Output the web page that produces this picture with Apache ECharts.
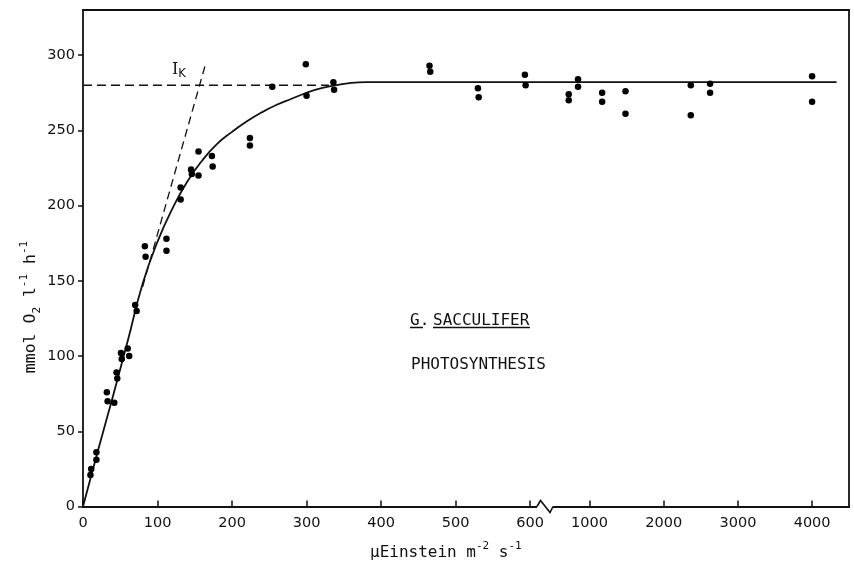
<!DOCTYPE html>
<html>
<head>
<meta charset="utf-8">
<script src="https://cdn.jsdelivr.net/npm/echarts@6/dist/echarts.min.js"></script>
<style>
  html, body { margin: 0; padding: 0; background: #fff; }
  #chart { width: 854px; height: 570px; }
</style>
</head>
<body>
<div id="chart"></div>
<script>
// Photosynthetic O2 production of G. sacculifer versus irradiance.
// Irradiance in µEinstein m-2 s-1, rate in mmol O2 l-1 h-1.

// measurements below the axis break (0–600)
const lowIrradiance = [10, 11, 18, 18, 32, 33, 42, 45, 46, 51, 52, 60, 62, 70, 72, 83, 84, 112, 112, 131, 131, 145, 146, 155, 155, 173, 174, 224, 224, 254, 299, 300, 336, 337, 465, 466, 530, 531, 593, 594];
const lowRate = [21, 25, 36, 31, 76, 70, 69, 89, 85, 102, 98, 105, 100, 134, 130, 173, 166, 178, 170, 212, 204, 224, 221, 236, 220, 233, 226, 245, 240, 279, 294, 273, 282, 277, 293, 289, 278, 272, 287, 280];

// measurements above the axis break
const highIrradiance = [720, 720, 845, 845, 1170, 1170, 1485, 1485, 2365, 2365, 2625, 2625, 4000, 4000];
const highRate = [274, 270, 284, 279, 275, 269, 276, 261, 280, 260, 281, 275, 286, 269];

// fitted P–I curve, read every 20 µE up to saturation
const curveIrradiance = [0, 20, 40, 60, 80, 100, 120, 140, 160, 180, 200, 220, 240, 260, 280, 300, 320, 340, 360, 380, 400, 620];
const curveRate = [0, 37, 73, 110, 148, 176, 198, 216, 230, 241, 249, 256, 262, 267, 271, 275, 278, 280, 281.5, 282, 282, 282];
const curveHighIrradiance = [400, 4330];
const curveHighRate = [282, 282];

// Ik construction: Pmax level and initial slope
const pmaxIrradiance = [0, 330];
const pmaxRate = [280, 280];
const slopeIrradiance = [80, 165];
const slopeRate = [146, 295];

// tick values
const lowTicks = [0, 100, 200, 300, 400, 500, 600];
const highTicks = [1000, 2000, 3000, 4000];
const rateTicks = [0, 50, 100, 150, 200, 250, 300];

const zip = (xs, ys) => xs.map((x, i) => [x, ys[i]]);

const INK = '#111';
const SANS = '"DejaVu Sans", sans-serif';
const MONO = '"DejaVu Sans Mono", monospace';
const axisLineStyle = { color: INK, width: 1.8 };
const tickStyle = { color: INK, width: 1.5 };
const labelStyle = { color: INK, fontFamily: SANS, fontSize: 14.5, formatter: v => String(v) };

const chart = echarts.init(document.getElementById('chart'), null, { renderer: 'canvas' });

const lowMax = 620, highMin = 400, highMax = 4500, rateMax = 330;

function bottomAxis(grid, min, max, ticks) {
  return {
    type: 'value', gridIndex: grid, position: 'bottom', min: min, max: max,
    axisLine: { show: true, onZero: false, lineStyle: axisLineStyle },
    axisTick: { show: true, inside: true, length: 6, customValues: ticks, lineStyle: tickStyle },
    axisLabel: Object.assign({ show: true, margin: 9, customValues: ticks }, labelStyle),
    splitLine: { show: false }
  };
}
function frameXAxis(grid, min, max) {
  return {
    type: 'value', gridIndex: grid, position: 'top', min: min, max: max,
    axisLine: { show: true, onZero: false, lineStyle: axisLineStyle },
    axisTick: { show: false }, axisLabel: { show: false }, splitLine: { show: false }
  };
}

const dotStyle = { color: '#000', opacity: 1 };

const option = {
  backgroundColor: '#fff',
  animation: false,
  grid: [
    { left: 83, top: 10, width: 462, height: 496.5 },
    { left: 545, top: 10, width: 304.2, height: 496.5 }
  ],
  xAxis: [
    bottomAxis(0, 0, lowMax, lowTicks),
    bottomAxis(1, highMin, highMax, highTicks),
    frameXAxis(0, 0, lowMax),
    frameXAxis(1, highMin, highMax)
  ],
  yAxis: [
    {
      type: 'value', gridIndex: 0, position: 'left', min: 0, max: rateMax,
      axisLine: { show: true, onZero: false, lineStyle: axisLineStyle },
      axisTick: { show: true, inside: false, length: 5, customValues: rateTicks, lineStyle: tickStyle },
      axisLabel: Object.assign({ show: true, margin: 8, customValues: rateTicks }, labelStyle),
      splitLine: { show: false }
    },
    {
      type: 'value', gridIndex: 1, position: 'right', min: 0, max: rateMax,
      axisLine: { show: true, onZero: false, lineStyle: axisLineStyle },
      axisTick: { show: false }, axisLabel: { show: false }, splitLine: { show: false }
    }
  ],
  series: [
    {
      type: 'line', xAxisIndex: 0, yAxisIndex: 0, data: zip(pmaxIrradiance, pmaxRate),
      showSymbol: false, lineStyle: { color: INK, width: 1.3, type: [9, 5] }, z: 2
    },
    {
      type: 'line', xAxisIndex: 0, yAxisIndex: 0, data: zip(slopeIrradiance, slopeRate),
      showSymbol: false, lineStyle: { color: INK, width: 1.3, type: [8, 5] }, z: 2
    },
    {
      type: 'line', xAxisIndex: 0, yAxisIndex: 0, data: zip(curveIrradiance, curveRate),
      smooth: true, showSymbol: false,
      lineStyle: { color: INK, width: 1.8 }, z: 3
    },
    {
      type: 'line', xAxisIndex: 1, yAxisIndex: 1, data: zip(curveHighIrradiance, curveHighRate),
      showSymbol: false, lineStyle: { color: INK, width: 1.8 }, z: 3
    },
    {
      type: 'scatter', xAxisIndex: 0, yAxisIndex: 0, data: zip(lowIrradiance, lowRate),
      symbol: 'circle', symbolSize: 6.5, itemStyle: dotStyle, z: 4
    },
    {
      type: 'scatter', xAxisIndex: 1, yAxisIndex: 1, data: zip(highIrradiance, highRate),
      symbol: 'circle', symbolSize: 6.5, itemStyle: dotStyle, z: 4
    }
  ]
};

chart.setOption(option);

// axis break marker, species/process labels and axis titles
const [bx, by] = chart.convertToPixel({ xAxisIndex: 0, yAxisIndex: 0 }, [lowMax, 0]);
const supStyle = { fontFamily: MONO, fontSize: 11, verticalAlign: 'top', fill: INK };
const subStyle = { fontFamily: MONO, fontSize: 11, verticalAlign: 'bottom', fill: INK };

chart.setOption({
  graphic: [
    {
      type: 'rect', shape: { x: bx - 8, y: by - 4, width: 16, height: 8 },
      style: { fill: '#fff' }, z: 100
    },
    {
      type: 'polyline',
      shape: { points: [[bx - 8, by], [bx - 4.5, by - 6], [bx + 5, by + 6], [bx + 8, by]] },
      style: { stroke: INK, lineWidth: 1.6, fill: null }, z: 101
    },
    {
      type: 'text', x: 370, y: 553, z: 50,
      style: {
        text: '{n|μEinstein m}{sup|-2}{n| s}{sup|-1}',
        align: 'left', verticalAlign: 'middle',
        rich: {
          n: { fontFamily: MONO, fontSize: 16, lineHeight: 24, fill: INK },
          sup: supStyle
        }
      }
    },
    {
      type: 'text', x: 31, y: 307, rotation: Math.PI / 2, z: 50,
      style: {
        text: '{n|mmol O}{sub|2}{n| l}{sup|-1}{n| h}{sup|-1}',
        align: 'center', verticalAlign: 'middle',
        rich: {
          n: { fontFamily: MONO, fontSize: 16.5, lineHeight: 24, fill: INK },
          sup: supStyle,
          sub: subStyle
        }
      }
    },
    {
      type: 'text', x: 172, y: 70, z: 50,
      style: {
        text: '{i|I}{k|K}',
        align: 'left', verticalAlign: 'middle',
        rich: {
          i: { fontFamily: '"DejaVu Serif", serif', fontSize: 16, lineHeight: 20, fill: INK },
          k: { fontFamily: SANS, fontSize: 11.5, verticalAlign: 'bottom', fill: INK }
        }
      }
    },
    {
      type: 'text', x: 410, y: 321, z: 50,
      style: { text: 'G.', fontFamily: MONO, fontSize: 16, fill: INK, align: 'left', verticalAlign: 'middle' }
    },
    {
      type: 'text', x: 433, y: 321, z: 50,
      style: { text: 'SACCULIFER', fontFamily: MONO, fontSize: 16, fill: INK, align: 'left', verticalAlign: 'middle' }
    },
    {
      type: 'line', shape: { x1: 410, y1: 327.5, x2: 423, y2: 327.5 },
      style: { stroke: INK, lineWidth: 1.5 }, z: 50
    },
    {
      type: 'line', shape: { x1: 433, y1: 327.5, x2: 530, y2: 327.5 },
      style: { stroke: INK, lineWidth: 1.5 }, z: 50
    },
    {
      type: 'text', x: 411, y: 365, z: 50,
      style: { text: 'PHOTOSYNTHESIS', fontFamily: MONO, fontSize: 16, fill: INK, align: 'left', verticalAlign: 'middle' }
    }
  ]
});
</script>
</body>
</html>
